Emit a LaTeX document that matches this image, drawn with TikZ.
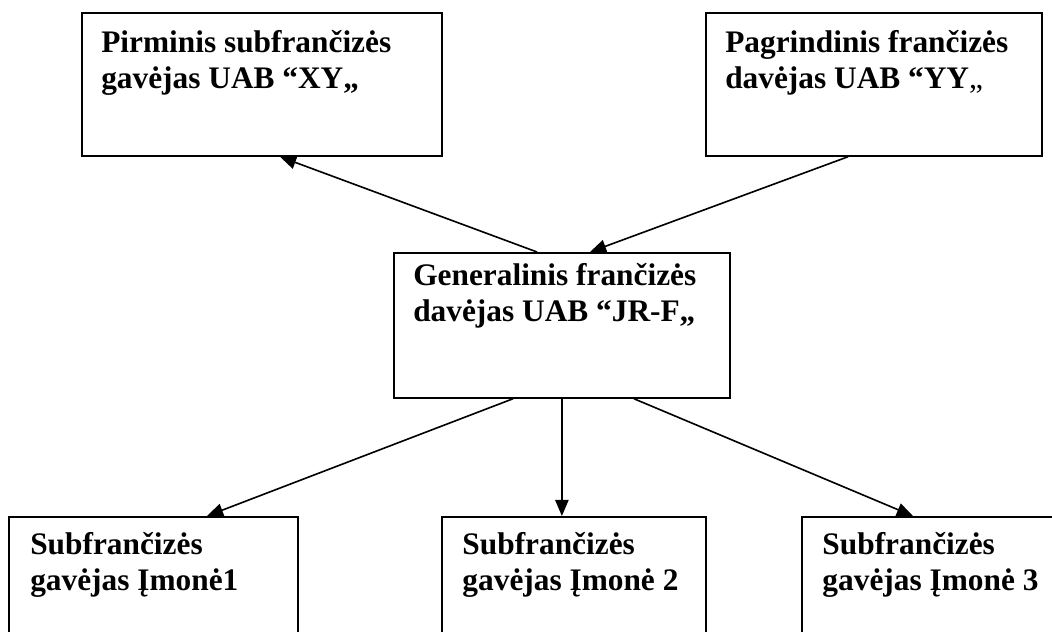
\documentclass[tikz,border=0pt]{standalone}
\usepackage{fontspec}
\setmainfont{Liberation Serif}
\usepackage{tikz}
\usetikzlibrary{calc}
\usetikzlibrary{arrows.meta}
\tikzset{
    box/.style={
        draw=black,
        line width=1.25pt,
        anchor=north west,
        inner sep=0pt
    },
    boxtext/.style={
        anchor=north west,
        inner sep=0pt,
        align=left,
        font=\bfseries\fontsize{22.3}{25.6}\selectfont
    },
    % filled arrow between the boxes
    linkarrow/.style={
        line width=1.15pt,
        black,
        -{Triangle[length=11.5pt, width=9.5pt]}
    }
}

\begin{document}
\begin{tikzpicture}
    \useasboundingbox (0,0) rectangle (26.3,-15.8);
    \clip (0,0) rectangle (26.3,-15.8);

    \node[box, minimum width=9cm, minimum height=3.575cm] (xy) at (2.025,-0.3) {};
    \node[box, minimum width=8.4cm, minimum height=3.575cm] (yy) at (17.625,-0.3) {};
    \node[box, minimum width=8.4cm, minimum height=3.625cm] (jrf) at (9.825,-6.3) {};
    \node[box, minimum width=7.225cm, minimum height=4.6cm] (im1) at (0.2,-12.9) {};
    \node[box, minimum width=6.6cm, minimum height=4.6cm] (im2) at (11.025,-12.9) {};
    \node[box, minimum width=7.5cm, minimum height=4.6cm] (im3) at (20.025,-12.9) {};

    \node[boxtext] (xyt) at ($(xy.north west)+(0.5,-0.46)$) {Pirminis subfrančizės\\gavėjas UAB “XY„};
    \node[boxtext] (yyt) at ($(yy.north west)+(0.5,-0.46)$) {Pagrindinis frančizės\\davėjas UAB “YY{\mdseries „}};
    \node[boxtext] (jrft) at ($(jrf.north west)+(0.5,-0.27)$) {Generalinis frančizės\\davėjas UAB “JR-F„};
    \node[boxtext] (im1t) at ($(im1.north west)+(0.55,-0.4)$) {Subfrančizės\\gavėjas Įmonė1};
    \node[boxtext] (im2t) at ($(im2.north west)+(0.53,-0.4)$) {Subfrančizės\\gavėjas Įmonė 2};
    \node[boxtext] (im3t) at ($(im3.north west)+(0.53,-0.4)$) {Subfrančizės\\gavėjas Įmonė 3};

    \draw[linkarrow] ($(jrf.north west)+(3.6,0)$) -- ($(xy.south west)+(4.975,0)$);
    \draw[linkarrow] ($(yy.south west)+(3.575,0)$) -- ($(jrf.north west)+(4.925,0)$);
    \draw[linkarrow] ($(jrf.south west)+(3.0,0)$) -- ($(im1.north west)+(4.975,0)$);
    \draw[linkarrow] (jrf.south) -- (jrf.south |- im2.north);
    \draw[linkarrow] ($(jrf.south west)+(6.025,0)$) -- ($(im3.north west)+(2.8,0)$);
\end{tikzpicture}
\end{document}
